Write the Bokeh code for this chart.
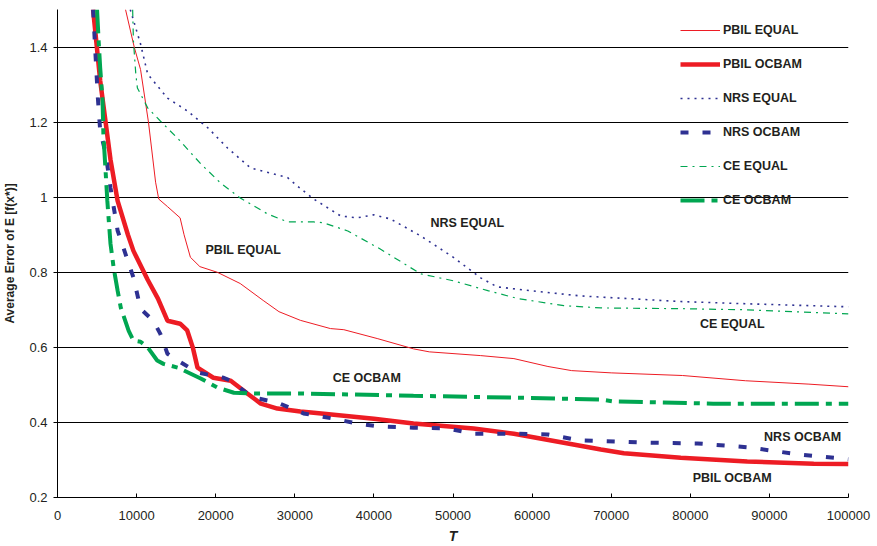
from bokeh.plotting import figure
from bokeh.models import FixedTicker, Legend, LegendItem, Range1d, ColumnDataSource
from bokeh.embed import file_html
from bokeh.resources import INLINE
from bokeh.core.properties import value

# ---- tick definitions ----
x_ticks = [0, 10000, 20000, 30000, 40000, 50000, 60000, 70000, 80000, 90000, 100000]
x_tick_labels = ["0", "10000", "20000", "30000", "40000", "50000", "60000",
                 "70000", "80000", "90000", "100000"]
y_ticks = [0.2, 0.4, 0.6, 0.8, 1.0, 1.2, 1.4]
y_tick_labels = ["0.2", "0.4", "0.6", "0.8", "1", "1.2", "1.4"]

# ---- series ----
pbil_equal_x = [8600, 9700, 10500, 11500, 12400, 12800, 13900, 15500, 16000, 16800, 18000,
                20200, 23100, 26000, 28000, 30700, 34500, 36200, 40500, 45000, 47000, 53500,
                57700, 62000, 65000, 70000, 79000, 87000, 95000, 100000]
pbil_equal_y = [1.50, 1.40, 1.34, 1.20, 1.04, 0.995, 0.975, 0.945, 0.90, 0.84, 0.815,
                0.80, 0.77, 0.725, 0.695, 0.672, 0.65, 0.647, 0.623, 0.596, 0.588, 0.578,
                0.570, 0.549, 0.538, 0.532, 0.525, 0.511, 0.502, 0.495]

pbil_ocbam_x = [4500, 5400, 6700, 7600, 8900, 9600, 11400, 12700, 13900, 15500, 16400, 17100,
                17700, 19700, 21900, 24000, 25700, 27800, 30700, 32400, 40000, 45000, 52600,
                57700, 64000, 68700, 71600, 78800, 87200, 95600, 100000]
pbil_ocbam_y = [1.50, 1.31, 1.10, 0.99, 0.90, 0.857, 0.78, 0.73, 0.671, 0.663, 0.645, 0.60,
                0.546, 0.519, 0.511, 0.477, 0.450, 0.437, 0.429, 0.426, 0.410, 0.397, 0.384,
                0.370, 0.346, 0.328, 0.318, 0.306, 0.296, 0.290, 0.289]

nrs_equal_x = [9200, 10500, 11400, 13900, 16400, 19000, 21500, 24400, 27300, 29100, 30300,
               32400, 35800, 37900, 40000, 42100, 45900, 50100, 53500, 55600, 59800, 66100,
               78800, 87200, 100000]
nrs_equal_y = [1.50, 1.408, 1.328, 1.264, 1.23, 1.185, 1.131, 1.078, 1.062, 1.052, 1.03,
               0.995, 0.950, 0.945, 0.953, 0.942, 0.897, 0.839, 0.785, 0.761, 0.751, 0.737,
               0.722, 0.716, 0.708]

nrs_ocbam_x = [4500, 4800, 5100, 5400, 6100, 6700, 7600, 9600, 10500, 12100, 13000, 13900,
               15200, 17700, 21000, 21900, 24000, 25300, 27800, 31100, 34900, 37900, 40800,
               45000, 49300, 52600, 57700, 62000, 66100, 74600, 80900, 87200, 93600, 100000]
nrs_ocbam_y = [1.50, 1.381, 1.265, 1.177, 1.115, 1.025, 0.911, 0.786, 0.703, 0.671, 0.636,
               0.583, 0.565, 0.533, 0.519, 0.511, 0.477, 0.464, 0.453, 0.424, 0.410, 0.397,
               0.389, 0.386, 0.384, 0.370, 0.370, 0.368, 0.352, 0.346, 0.344, 0.334, 0.315,
               0.302]

ce_equal_x = [9500, 9600, 9900, 10100, 11400, 13000, 15500, 18100, 20600, 23100, 26500,
              29100, 32400, 33600, 36700, 40800, 45900, 50100, 54400, 58200, 64000, 68700,
              78800, 87200, 100000]
ce_equal_y = [1.50, 1.416, 1.328, 1.291, 1.238, 1.203, 1.15, 1.089, 1.038, 0.998, 0.956,
              0.934, 0.934, 0.932, 0.910, 0.862, 0.796, 0.777, 0.751, 0.73, 0.711, 0.705,
              0.703, 0.700, 0.689]

ce_ocbam_x = [5000, 5200, 5400, 5700, 5800, 6100, 6300, 6700, 7100, 7600, 8000, 9000, 9600,
              10500, 11400, 12600, 13400, 15200, 18100, 20200, 22300, 25300, 30700, 45000,
              57700, 68700, 70300, 82900, 100000]
ce_ocbam_y = [1.50, 1.416, 1.344, 1.256, 1.169, 1.062, 0.99, 0.876, 0.812, 0.751, 0.706,
              0.644, 0.618, 0.615, 0.60, 0.565, 0.556, 0.546, 0.517, 0.493, 0.479, 0.477,
              0.477, 0.471, 0.466, 0.461, 0.456, 0.450, 0.450]

series_names = ["PBIL EQUAL", "PBIL OCBAM", "NRS EQUAL", "NRS OCBAM", "CE EQUAL", "CE OCBAM"]

# in-chart annotation labels (data coordinates)
ann_text = ["PBIL EQUAL", "NRS EQUAL", "CE EQUAL", "CE OCBAM", "NRS OCBAM", "PBIL OCBAM"]
ann_x = [23500, 51800, 85300, 39100, 94200, 85300]
ann_y = [0.860, 0.932, 0.663, 0.519, 0.362, 0.253]

RED = "#ED1C24"
BLUE = "#2E3192"
GREEN = "#00A651"
FONT = "Liberation Sans"

p = figure(width=877, height=546, output_backend="svg", toolbar_location=None,
           x_range=Range1d(0, 100000), y_range=Range1d(0.2, 1.5),
           min_border_left=57, min_border_right=29, min_border_top=9, min_border_bottom=49)
p.outline_line_color = None
p.background_fill_color = "white"
p.border_fill_color = "white"
p.xgrid.visible = False
p.ygrid.grid_line_color = "black"
p.ygrid.grid_line_width = 1
p.ygrid.ticker = FixedTicker(ticks=y_ticks)

p.xaxis.ticker = FixedTicker(ticks=x_ticks)
p.xaxis.major_label_overrides = {t: l for t, l in zip(x_ticks, x_tick_labels)}
p.yaxis.ticker = FixedTicker(ticks=y_ticks)
p.yaxis.major_label_overrides = {t: l for t, l in zip(y_ticks, y_tick_labels)}

for ax in (p.xaxis, p.yaxis):
    ax.axis_line_color = "black"
    ax.major_tick_line_color = "black"
    ax.minor_tick_line_color = None
    ax.major_label_text_font = FONT
    ax.major_label_text_font_size = "13px"
    ax.major_label_text_color = "#231F20"
    ax.axis_label_text_font = FONT
    ax.axis_label_text_color = "#231F20"

p.xaxis.major_tick_in = 4
p.xaxis.major_tick_out = 0
p.xaxis.major_label_standoff = 13
p.xaxis.axis_label = "T"
p.xaxis.axis_label_text_font_style = "bold italic"
p.xaxis.axis_label_text_font_size = "14px"
p.xaxis.axis_label_standoff = 5

p.yaxis.major_tick_in = 3
p.yaxis.major_tick_out = 4
p.yaxis.major_label_standoff = 6
p.yaxis.axis_label = "Average Error of E [f(x*)]"
p.yaxis.axis_label_text_font_style = "bold"
p.yaxis.axis_label_text_font_size = "12px"
p.yaxis.axis_label_standoff = 9

r1 = p.line(pbil_equal_x, pbil_equal_y, line_color=RED, line_width=1)
r2 = p.line(pbil_ocbam_x, pbil_ocbam_y, line_color=RED, line_width=4.5)
r3 = p.line(nrs_equal_x, nrs_equal_y, line_color=BLUE, line_width=1.6, line_dash="2 5")
r4 = p.line(nrs_ocbam_x, nrs_ocbam_y, line_color=BLUE, line_width=4, line_dash="8 14")
r5 = p.line(ce_equal_x, ce_equal_y, line_color=GREEN, line_width=1.2, line_dash="7 5 2 5")
r6 = p.line(ce_ocbam_x, ce_ocbam_y, line_color=GREEN, line_width=4, line_dash="24 7 6 7")

ann_src = ColumnDataSource(dict(x=ann_x, y=ann_y, text=ann_text))
p.text(x="x", y="y", text="text", source=ann_src, text_font=value(FONT),
       text_font_style="bold", text_font_size="12.5px", text_color="#231F20",
       text_align="center", text_baseline="middle")

legend = Legend(
    items=[LegendItem(label=n, renderers=[r]) for n, r in
           zip(series_names, [r1, r2, r3, r4, r5, r6])],
    location=(623, 287), orientation="vertical",
    glyph_width=40, glyph_height=20, label_height=20, spacing=14,
    padding=0, margin=0, label_standoff=3,
    border_line_alpha=0, background_fill_alpha=0,
    label_text_font=FONT, label_text_font_style="bold",
    label_text_font_size="12.5px", label_text_color="#231F20")
p.add_layout(legend)

open("out.html", "w").write(file_html(p, INLINE))
